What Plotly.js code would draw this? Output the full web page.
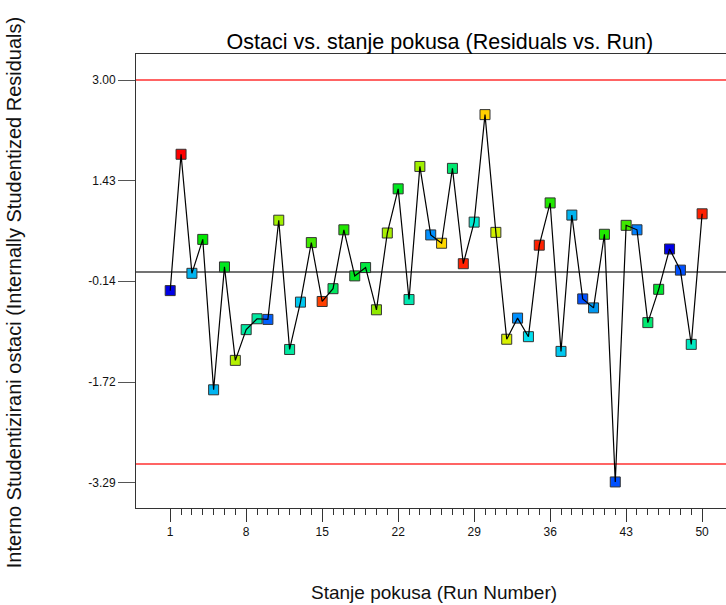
<!DOCTYPE html>
<html>
<head>
<meta charset="utf-8">
<script src="https://cdn.plot.ly/plotly-3.0.1.min.js"></script>
<style>html,body{margin:0;padding:0;background:#fff;}#chart{width:726px;height:605px;}</style>
</head>
<body>
<div id="chart"></div>
<script>
const runs = [1,2,3,4,5,6,7,8,9,10,11,12,13,14,15,16,17,18,19,20,21,22,23,24,25,26,27,28,29,30,31,32,33,34,35,36,37,38,39,40,41,42,43,44,45,46,47,48,49,50];
const residuals = [-0.29,1.84,-0.02,0.51,-1.84,0.08,-1.38,-0.90,-0.73,-0.74,
  0.81,-1.21,-0.47,0.46,-0.46,-0.26,0.66,-0.06,0.07,-0.59,
  0.61,1.30,-0.43,1.65,0.58,0.45,1.62,0.13,0.78,2.46,
  0.62,-1.05,-0.72,-1.01,0.42,1.08,-1.24,0.89,-0.42,-0.56,
  0.59,-3.28,0.73,0.66,-0.79,-0.27,0.36,0.03,-1.13,0.91];
const pointColors = ['#0000e6','#ff0000','#00b4f0','#00e800','#00b4f0','#00e820','#b4f000','#00e8a0','#00e8a0','#0060ff',
  '#a0f000','#00e8a0','#00c8f0','#40e800','#ff4000','#00e860','#20e800','#00e820','#00e840','#90e800',
  '#a8f000','#00e820','#00e8b0','#a0f000','#0090ff','#ffd800','#00e870','#ff2000','#00e8d0','#ffd000',
  '#d0f000','#d8f000','#0090ff','#00e0f0','#ff2000','#20e800','#00c8f0','#00b4f0','#0050ff','#0098f0',
  '#20e800','#0050ff','#40e800','#0080ff','#00e870','#00e830','#0000e6','#0050ff','#00e8c0','#ff2000'];
const xTickVals = [1,8,15,22,29,36,43,50];
const yTickVals = [3.00,1.43,-0.14,-1.72,-3.29];
const yTickText = ['3.00','1.43','-0.14','-1.72','-3.29'];
const limitValue = 3;

const font = 'Liberation Sans, Arial, sans-serif';

const traces = [
  {x: runs, y: residuals, type: 'scatter', mode: 'markers',
   marker: {symbol: 'square', size: 10, color: pointColors, line: {color: '#333', width: 1}},
   hoverinfo: 'x+y', showlegend: false},
  {x: runs, y: residuals, type: 'scatter', mode: 'lines',
   line: {color: '#000', width: 1.2}, hoverinfo: 'skip', showlegend: false}
];

const layout = {
  width: 726, height: 605,
  margin: {l: 136, r: 0, t: 54, b: 97},
  paper_bgcolor: '#fff', plot_bgcolor: '#fff',
  font: {family: font, color: '#111'},
  showlegend: false,
  title: {text: 'Ostaci vs. stanje pokusa (Residuals vs. Run)', font: {family: font, size: 21.5, color: '#000'},
          xref: 'paper', x: 0.515, xanchor: 'center', yref: 'container', y: 0.932, yanchor: 'middle'},
  xaxis: {range: [-2.15, 52.2], showgrid: false, zeroline: false,
          showline: true, linecolor: '#333', linewidth: 1, mirror: true,
          tickmode: 'array', tickvals: xTickVals, ticks: 'outside', ticklen: 13, tickwidth: 1, tickcolor: '#333',
          tickfont: {family: font, size: 12, color: '#111'},
          minor: {tickmode: 'array', tickvals: runs, ticks: 'outside', ticklen: 6, tickwidth: 1, tickcolor: '#333', showgrid: false}},
  yaxis: {range: [-3.687, 3.407], showgrid: false, zeroline: false,
          showline: true, linecolor: '#333', linewidth: 1,
          tickmode: 'array', tickvals: yTickVals, ticktext: yTickText, ticks: 'outside', ticklen: 17, tickwidth: 1, tickcolor: '#555',
          tickfont: {family: font, size: 12, color: '#111'}},
  shapes: [
    {type: 'line', xref: 'paper', x0: 0, x1: 1, yref: 'y', y0: limitValue, y1: limitValue, line: {color: '#ff3030', width: 1.6}, layer: 'below'},
    {type: 'line', xref: 'paper', x0: 0, x1: 1, yref: 'y', y0: -limitValue, y1: -limitValue, line: {color: '#ff3030', width: 1.6}, layer: 'below'},
    {type: 'line', xref: 'paper', x0: 0, x1: 1, yref: 'y', y0: 0, y1: 0, line: {color: '#444', width: 1.6}, layer: 'below'}
  ],
  annotations: [
    {text: 'Interno Studentizirani ostaci (Internally Studentized Residuals)', textangle: -90,
     xref: 'paper', yref: 'paper', x: -0.207, y: 0.475, xanchor: 'center', yanchor: 'middle', showarrow: false,
     font: {family: font, size: 20, color: '#111'}},
    {text: 'Stanje pokusa (Run Number)', xref: 'paper', yref: 'paper', x: 0.505, y: -0.187,
     xanchor: 'center', yanchor: 'middle', showarrow: false, font: {family: font, size: 19, color: '#111'}}
  ]
};

Plotly.newPlot('chart', traces, layout, {displayModeBar: false, staticPlot: true});
</script>
</body>
</html>
